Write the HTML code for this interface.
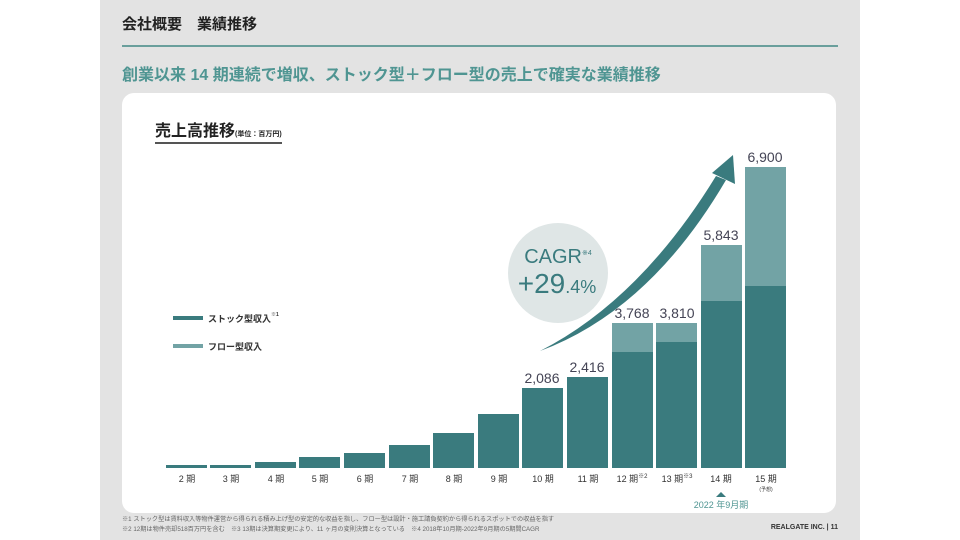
<!DOCTYPE html>
<html><head><meta charset="utf-8"><style>
body{margin:0;width:960px;height:540px;background:#fff;overflow:hidden;font-family:"Liberation Sans","Noto Sans CJK JP",sans-serif}
.bg{position:absolute;left:100px;top:0;width:760px;height:540px;background:#e3e3e3}
.t{position:absolute;white-space:nowrap}
</style></head><body>
<div class="bg"></div>
<div class="t" style="left:122px;top:13px;font-size:15px;font-weight:bold;color:#222">会社概要　業績推移</div>
<div style="position:absolute;left:122px;top:45px;width:716px;height:2px;background:#6a9f9c"></div>
<div class="t" style="left:122px;top:61px;font-size:16px;font-weight:bold;color:#4f9592">創業以来 14 期連続で増収、ストック型＋フロー型の売上で確実な業績推移</div>
<div style="position:absolute;left:122px;top:93px;width:714px;height:420px;background:#fff;border-radius:12px"></div>
<div class="t" style="left:155px;top:117px;font-size:16px;font-weight:bold;color:#222;border-bottom:2px solid #555;padding-bottom:1px">売上高推移<span style="font-size:7px">(単位：百万円)</span></div>
<svg style="position:absolute;left:0;top:0" width="960" height="540">
<circle cx="558" cy="273" r="50" fill="#dfe6e6"/>
<text x="558" y="263" text-anchor="middle" font-size="20" fill="#3a7b7e" font-family="Liberation Sans">CAGR<tspan font-size="7" dy="-8">※4</tspan></text>
<text x="557" y="293" text-anchor="middle" font-size="28" fill="#3a7b7e" font-family="Liberation Sans">+29<tspan font-size="18">.4%</tspan></text>
<path d="M540 351 Q640 300 716 176 L726 180 Q650 310 540 351Z" fill="#3a7b7e"/>
<polygon points="733,155 712,173 735,184" fill="#3a7b7e"/>
<g fill="#3a7b7e">
<rect x="166" y="465" width="41" height="3"/>
<rect x="210" y="465" width="41" height="3"/>
<rect x="255" y="462" width="41" height="6"/>
<rect x="299" y="457" width="41" height="11"/>
<rect x="344" y="453" width="41" height="15"/>
<rect x="389" y="445" width="41" height="23"/>
<rect x="433" y="433" width="41" height="35"/>
<rect x="478" y="414" width="41" height="54"/>
<rect x="522" y="388" width="41" height="80"/>
<rect x="567" y="377" width="41" height="91"/>
<rect x="612" y="352" width="41" height="116"/>
<rect x="656" y="342" width="41" height="126"/>
<rect x="701" y="301" width="41" height="167"/>
<rect x="745" y="286" width="41" height="182"/>
</g>
<g fill="#72a3a5">
<rect x="612" y="323" width="41" height="29"/>
<rect x="656" y="323" width="41" height="19"/>
<rect x="701" y="245" width="41" height="56"/>
<rect x="745" y="167" width="41" height="119"/>
</g>
<g font-size="14" fill="#445" text-anchor="middle" font-family="Liberation Sans">
<text x="542" y="383">2,086</text><text x="587" y="372">2,416</text>
<text x="632" y="318">3,768</text><text x="677" y="318">3,810</text>
<text x="721" y="240">5,843</text><text x="765" y="162">6,900</text>
</g>
<g font-size="9" fill="#333" text-anchor="middle">
<text x="187" y="482">2 期</text><text x="231" y="482">3 期</text><text x="276" y="482">4 期</text>
<text x="320" y="482">5 期</text><text x="365" y="482">6 期</text><text x="410" y="482">7 期</text>
<text x="454" y="482">8 期</text><text x="499" y="482">9 期</text><text x="543" y="482">10 期</text>
<text x="588" y="482">11 期</text><text x="632" y="482">12 期<tspan font-size="6" dy="-4">※2</tspan></text>
<text x="677" y="482">13 期<tspan font-size="6" dy="-4">※3</tspan></text>
<text x="721" y="482">14 期</text><text x="766" y="482">15 期</text>
<text x="766" y="491" font-size="5">(予想)</text>
</g>
<polygon points="716,497 721,492 726,497" fill="#3a7b7e"/>
<text x="721" y="508" text-anchor="middle" font-size="9" fill="#4f9592">2022 年9月期</text>
<rect x="173" y="316" width="30" height="4" fill="#3a7b7e"/>
<rect x="173" y="344" width="30" height="4" fill="#72a3a5"/>
<text x="208" y="322" font-size="9" font-weight="bold" fill="#333">ストック型収入<tspan font-size="5" dy="-6">※1</tspan></text>
<text x="208" y="350" font-size="9" font-weight="bold" fill="#333">フロー型収入</text>
<text x="122" y="521" font-size="6.2" fill="#666">※1 ストック型は賃料収入等物件運営から得られる積み上げ型の安定的な収益を指し、フロー型は設計・施工請負契約から得られるスポットでの収益を指す</text>
<text x="122" y="531" font-size="6.2" fill="#666">※2 12期は物件売却518百万円を含む　※3 13期は決算期変更により、11 ヶ月の変則決算となっている　※4 2018年10月期-2022年9月期の5期間CAGR</text>
<text x="838" y="529" text-anchor="end" font-size="7" font-weight="bold" fill="#333">REALGATE INC. | 11</text>
</svg>
</body></html>
